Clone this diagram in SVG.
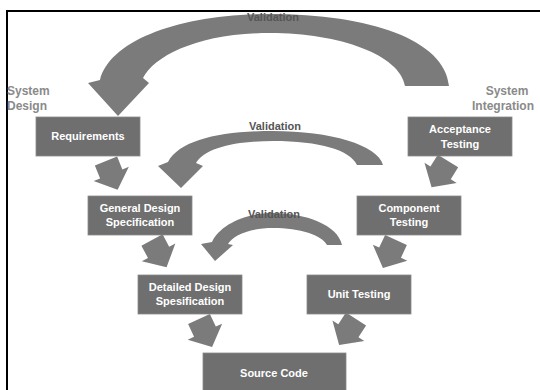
<svg xmlns="http://www.w3.org/2000/svg" width="540" height="390" viewBox="0 0 540 390">
<style>
.box{fill:#6f6f6f;stroke:#8a8a8a;stroke-width:0.8}
.bt{font-family:"Liberation Sans",Arial,sans-serif;font-weight:bold;font-size:11px;fill:#ffffff;text-anchor:middle}
.arr{fill:#7b7b7b}
.val{font-family:"Liberation Sans",Arial,sans-serif;font-weight:bold;font-size:11px;fill:#555555;text-anchor:middle}
.side{font-family:"Liberation Sans",Arial,sans-serif;font-weight:bold;font-size:12px;fill:#8a8a8a}
</style>
<defs>
<path id="blk" class="arr" d="M-12,0 L12,0 L12,14 L19,14 L0,31 L-19,14 L-12,14 Z"/>
</defs>
<rect width="540" height="390" fill="#ffffff"/>
<path d="M7,392 V11 H542" fill="none" stroke="#000000" stroke-width="2"/>
<g id="connectors">
<path class="arr" d="M100,80 C110,40 180,14 270,14 C370,14 445,40 449,86 L405,86 C400,55 340,33 270,33 C200,33 155,55 143,78 L149,83 L118,116 L88,83 Z"/>
<path class="arr" d="M168,162 C180,140 220,131 273,131 C330,131 378,145 383,165 L357,165 C350,150 320,141 273,141 C235,141 205,148 196,163 L203,166 L181,188 L158,166 Z"/>
<path class="arr" d="M212,242 C220,225 245,213 273,213 C305,213 338,225 342,245 L327,245 C322,235 300,228 273,228 C250,228 233,235 228,244 L233,245 L215,261 L201,244 Z"/>
<use href="#blk" transform="translate(106,161) rotate(-22)"/>
<use href="#blk" transform="translate(152,240) rotate(-28)"/>
<use href="#blk" transform="translate(199,319) rotate(-25)"/>
<use href="#blk" transform="translate(448,161) rotate(32)"/>
<use href="#blk" transform="translate(396,240) rotate(25)"/>
<use href="#blk" transform="translate(356,319) rotate(33)"/>
</g>
<text class="val" x="273" y="21">Validation</text>
<text class="val" x="275" y="130">Validation</text>
<text class="val" x="274" y="218">Validation</text>
<g id="label-system-design">
<text class="side" x="7" y="95">System</text>
<text class="side" x="7" y="110">Design</text>
</g>
<g id="label-system-integration">
<text class="side" x="507" y="95" text-anchor="middle">System</text>
<text class="side" x="472" y="110">Integration</text>
</g>
<g id="requirements">
<rect class="box" x="36" y="117" width="104" height="39"/>
<text class="bt" x="88" y="140">Requirements</text>
</g>
<g id="acceptance-testing">
<rect class="box" x="408" y="117" width="104" height="39"/>
<text class="bt" x="460" y="133">Acceptance</text>
<text class="bt" x="460" y="148">Testing</text>
</g>
<g id="general-design">
<rect class="box" x="88" y="196" width="104" height="39"/>
<text class="bt" x="140" y="212">General Design</text>
<text class="bt" x="140" y="226">Specification</text>
</g>
<g id="component-testing">
<rect class="box" x="357" y="196" width="104" height="39"/>
<text class="bt" x="409" y="212">Component</text>
<text class="bt" x="409" y="226">Testing</text>
</g>
<g id="detailed-design">
<rect class="box" x="138" y="275" width="104" height="39"/>
<text class="bt" x="190" y="291">Detailed Design</text>
<text class="bt" x="190" y="305">Spesification</text>
</g>
<g id="unit-testing">
<rect class="box" x="307" y="275" width="104" height="39"/>
<text class="bt" x="359" y="298">Unit Testing</text>
</g>
<g id="source-code">
<rect class="box" x="203" y="353" width="143" height="40"/>
<text class="bt" x="274" y="377">Source Code</text>
</g>
</svg>
